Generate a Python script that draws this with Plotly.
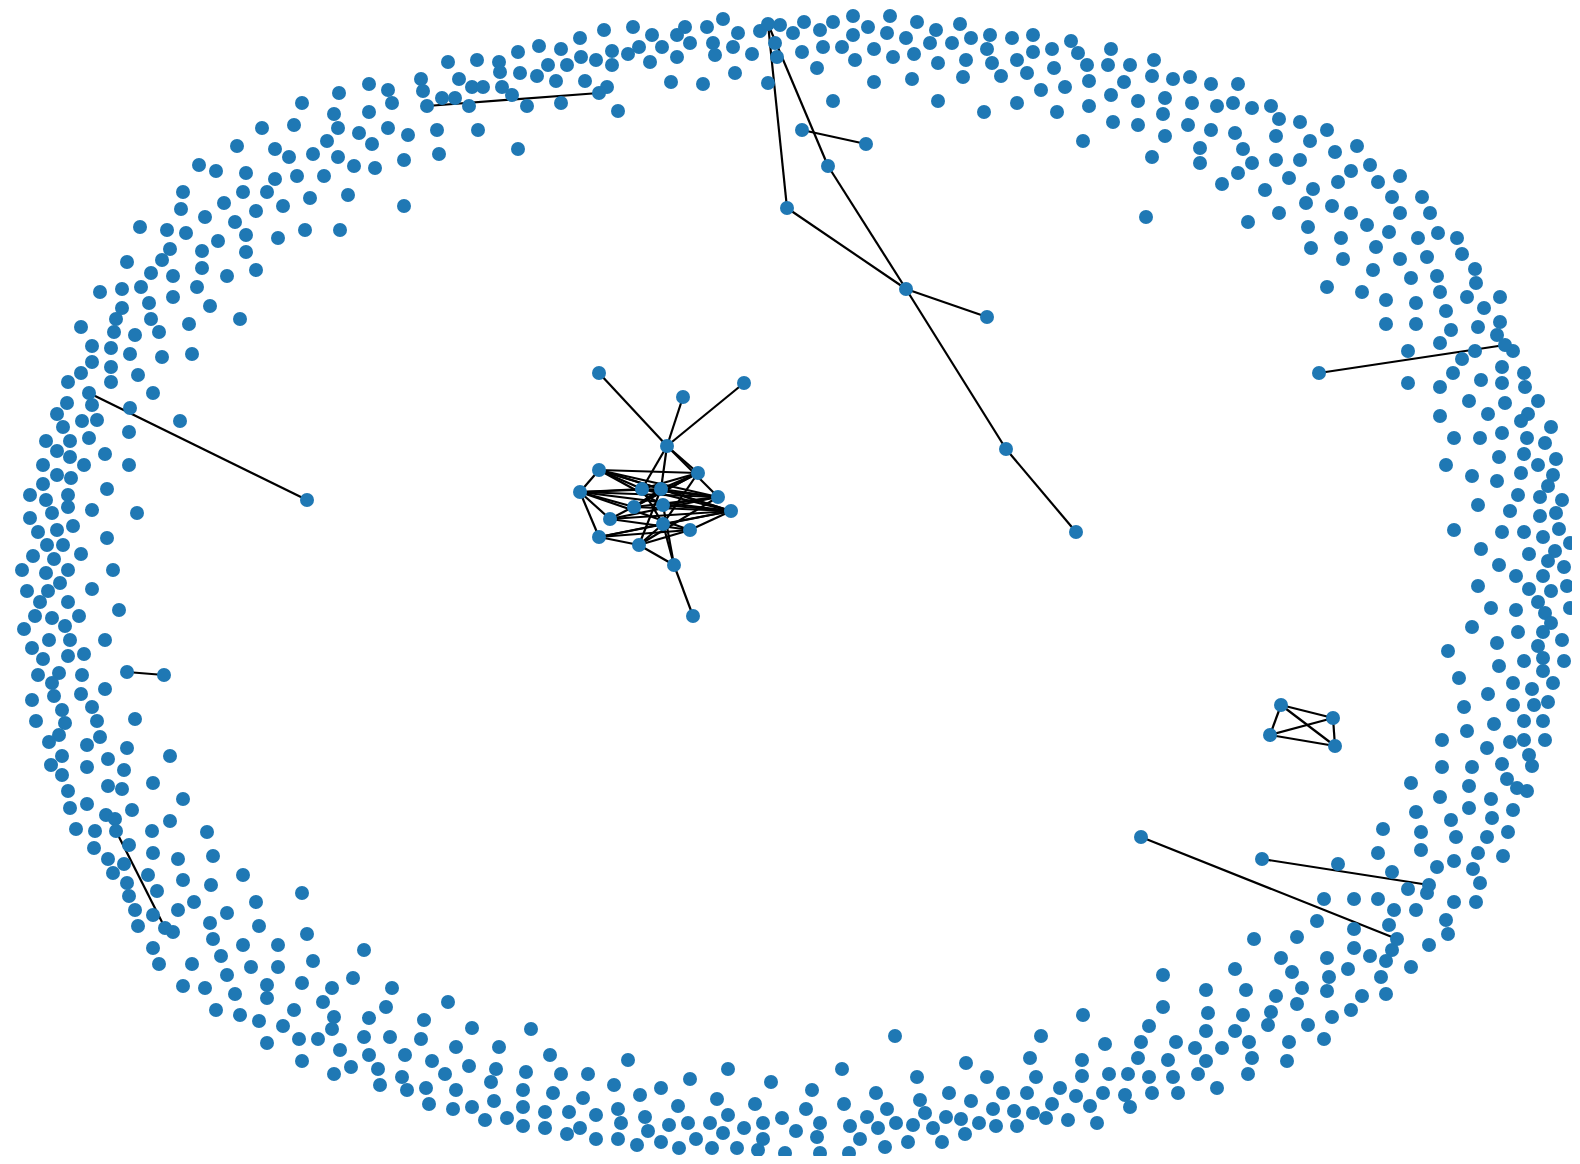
import plotly.graph_objects as go

# ---- isolated nodes (layout positions, pixel-like units, y downwards) ----
nodes_upper_left = [(369,84),(388,90),(392,103),(339,93),(302,103),(334,114),(369,112),(338,128),(388,128),(262,128),(294,125),(359,133),(327,141),(372,144),(237,146),(275,149),(289,157),(313,154),(338,157),(354,166),(375,168),(199,165),(216,171),(246,173),(275,179),(297,176),(324,176),(183,192),(243,192),(267,192),(181,209),(224,203),(256,211),(283,206),(310,198),(348,195),(205,217),(235,222),(140,227),(167,230),(186,233),(246,235),(278,238),(305,230),(340,230),(218,241),(170,249),(202,251),(246,252),(127,262),(162,260),(151,273),(173,276),(202,268),(227,276),(256,270),(100,292),(122,289),(141,287),(197,287),(149,303),(173,297),(122,308),(210,306),(116,319),(151,319),(81,327),(189,324),(240,319),(114,332),(135,335),(159,332),(92,346),(111,348),(130,354),(162,357),(192,354),(92,362),(111,367),(81,373),(138,375),(68,382),(111,382)]

nodes_top_left = [(723,19),(780,25),(760,31),(775,43),(777,57),(768,83),(633,27),(604,30),(580,38),(652,35),(685,27),(707,27),(677,35),(662,47),(690,43),(713,43),(715,55),(738,33),(733,47),(752,54),(639,47),(628,54),(612,51),(612,65),(596,60),(581,57),(567,65),(561,49),(539,46),(518,52),(548,65),(537,76),(520,73),(499,62),(500,72),(477,60),(448,62),(421,79),(459,79),(472,87),(483,87),(502,87),(512,95),(556,81),(585,81),(607,87),(650,62),(677,57),(671,82),(703,84),(735,73),(423,91),(442,98),(455,98),(469,106),(527,106),(561,103),(618,111),(408,135),(437,130),(478,130),(404,160),(439,154),(518,149),(404,206)]

nodes_top_right = [(804,22),(793,33),(820,30),(833,22),(853,16),(868,27),(853,35),(890,16),(887,33),(917,22),(906,38),(936,30),(930,43),(960,24),(952,43),(971,38),(990,35),(987,49),(1012,38),(1033,35),(1033,52),(1052,49),(1071,41),(1078,53),(1087,65),(1111,49),(1108,65),(1130,65),(1154,60),(1152,76),(1173,79),(802,52),(823,47),(842,47),(855,60),(874,49),(893,57),(914,54),(938,63),(966,60),(992,63),(1017,60),(1027,73),(1054,68),(1001,76),(963,77),(912,79),(874,82),(817,68),(1089,81),(1124,82),(1041,90),(1065,87),(1111,95),(1138,101),(1165,98),(1163,114),(833,101),(938,101),(984,112),(1017,103),(1057,112),(1089,106),(1113,122),(1138,125),(1165,136),(1083,141),(1152,157),(1146,217)]

nodes_upper_right = [(1190,77),(1211,84),(1238,84),(1192,103),(1217,106),(1233,103),(1252,108),(1271,106),(1279,119),(1300,122),(1327,130),(1188,125),(1211,130),(1235,133),(1276,136),(1310,141),(1200,148),(1200,163),(1243,149),(1252,163),(1276,160),(1300,160),(1335,152),(1357,146),(1238,173),(1222,184),(1265,190),(1289,178),(1313,189),(1338,182),(1351,171),(1370,165),(1378,182),(1400,176),(1306,203),(1332,206),(1351,213),(1392,197),(1422,197),(1400,213),(1430,213),(1248,222),(1279,213),(1308,227),(1367,225),(1389,232),(1341,238),(1418,238),(1438,233),(1457,238),(1311,248),(1376,247),(1343,259),(1400,259),(1427,257),(1462,254),(1475,269),(1476,283),(1373,270),(1411,278),(1437,276),(1327,287),(1362,292),(1386,300),(1416,303),(1440,292),(1467,297),(1500,297),(1446,311),(1484,308),(1386,324),(1416,324),(1451,330),(1478,327),(1500,322),(1497,335),(1440,343),(1408,351),(1475,351),(1513,351),(1462,359),(1453,373),(1502,367),(1524,373),(1408,383),(1440,387),(1481,380),(1502,383),(1525,387)]

nodes_right = [(1469,401),(1505,403),(1538,401),(1440,416),(1488,414),(1528,414),(1521,421),(1551,427),(1454,438),(1480,438),(1502,433),(1527,438),(1545,443),(1446,465),(1499,457),(1524,454),(1538,465),(1556,459),(1472,476),(1497,481),(1521,473),(1553,475),(1548,486),(1518,495),(1540,497),(1562,500),(1478,505),(1510,511),(1540,516),(1556,513),(1454,530),(1502,532),(1524,532),(1543,537),(1559,529),(1570,543),(1481,549),(1529,554),(1555,551),(1548,561),(1499,565),(1516,576),(1543,576),(1564,567),(1478,586),(1529,589),(1551,591),(1567,586),(1538,602),(1491,608),(1516,610),(1545,613),(1570,608),(1551,623),(1472,627),(1518,632),(1543,632),(1497,643),(1538,646),(1562,640),(1448,651),(1524,661),(1543,658),(1499,666),(1564,661),(1543,671),(1459,678),(1513,683),(1553,683),(1532,689),(1488,694),(1464,707),(1513,705),(1534,705),(1548,702),(1524,721),(1543,721),(1494,724),(1467,731),(1442,740),(1487,748),(1510,742),(1524,740),(1545,740),(1529,755),(1442,767),(1472,767),(1502,764),(1532,766)]

nodes_lower_right = [(1411,783),(1469,786),(1440,797),(1507,779),(1517,788),(1527,791),(1491,799),(1416,812),(1469,808),(1513,810),(1451,820),(1492,818),(1383,829),(1421,832),(1456,837),(1487,837),(1508,832),(1338,864),(1378,853),(1421,850),(1478,853),(1503,856),(1392,872),(1437,867),(1454,861),(1473,869),(1480,883),(1427,893),(1408,889),(1324,899),(1354,899),(1378,899),(1394,910),(1416,910),(1454,902),(1476,902),(1317,921),(1389,925),(1354,929),(1446,920),(1448,934),(1254,939),(1297,937),(1392,950),(1354,948),(1429,945),(1370,956),(1327,958),(1281,958),(1386,961),(1235,969),(1292,972),(1348,969),(1411,967),(1329,977),(1381,977),(1206,990),(1246,990),(1302,988),(1327,991),(1362,996),(1386,994),(1276,996),(1297,1004),(1208,1013),(1243,1015),(1271,1012),(1268,1025),(1332,1017),(1351,1010),(1206,1031),(1235,1031),(1308,1025),(1195,1048),(1222,1048),(1249,1042),(1289,1042),(1324,1039),(1206,1061),(1252,1058),(1287,1061),(1198,1074),(1248,1074),(1217,1088)]

nodes_bottom_right = [(1163,975),(1083,1015),(1163,1007),(1149,1026),(895,1036),(1041,1036),(1105,1044),(1141,1042),(1176,1042),(1030,1058),(1082,1060),(1138,1058),(1168,1060),(842,1069),(966,1063),(917,1077),(987,1077),(1036,1077),(1082,1076),(1109,1074),(1128,1074),(1149,1077),(1173,1077),(812,1090),(876,1093),(949,1093),(1003,1093),(1027,1093),(1060,1088),(1076,1096),(1103,1093),(1125,1095),(1152,1093),(1178,1093),(844,1104),(920,1100),(971,1101),(1052,1104),(1090,1106),(1130,1107),(806,1109),(887,1109),(925,1113),(993,1109),(1014,1111),(1033,1113),(867,1117),(946,1117),(961,1119),(1046,1118),(1068,1120),(1097,1123),(820,1123),(850,1126),(878,1128),(896,1123),(913,1125),(933,1128),(979,1123),(996,1126),(1017,1126),(796,1131),(817,1137),(860,1139),(908,1142),(942,1142),(965,1134),(885,1147),(820,1153),(849,1153)]

nodes_bottom_left = [(448,1002),(424,1020),(472,1028),(531,1029),(421,1039),(405,1055),(456,1047),(499,1047),(432,1061),(469,1066),(496,1069),(550,1055),(402,1077),(445,1074),(491,1082),(526,1072),(561,1074),(588,1074),(628,1060),(407,1090),(426,1088),(456,1090),(523,1090),(553,1093),(614,1085),(583,1098),(640,1095),(661,1088),(690,1079),(728,1069),(771,1082),(429,1104),(453,1109),(472,1107),(494,1101),(523,1107),(545,1112),(569,1112),(596,1115),(618,1109),(678,1106),(717,1099),(755,1104),(485,1120),(507,1118),(523,1126),(545,1128),(567,1134),(580,1128),(621,1123),(645,1117),(648,1131),(669,1125),(688,1123),(710,1123),(728,1115),(723,1133),(744,1128),(763,1123),(782,1118),(596,1139),(618,1139),(637,1145),(661,1142),(679,1148),(696,1139),(712,1148),(737,1148),(758,1150),(763,1139),(785,1153)]

nodes_lower_left = [(68,791),(108,786),(122,789),(153,783),(183,799),(70,808),(87,804),(106,815),(115,819),(132,810),(76,829),(95,831),(170,821),(152,831),(207,832),(94,848),(129,845),(153,853),(178,859),(213,856),(108,859),(124,864),(113,873),(148,875),(183,880),(211,885),(243,875),(302,893),(127,883),(129,896),(157,891),(194,902),(256,902),(135,910),(153,915),(178,910),(227,913),(138,926),(173,932),(210,923),(259,926),(307,934),(153,948),(213,939),(243,945),(278,945),(364,950),(159,964),(192,964),(221,956),(251,967),(278,967),(313,961),(227,975),(183,986),(205,988),(235,994),(267,985),(267,998),(302,983),(332,988),(353,978),(323,1002),(392,988),(216,1010),(240,1015),(259,1021),(283,1026),(294,1010),(334,1017),(332,1029),(369,1018),(386,1007),(267,1043),(299,1039),(318,1039),(364,1037),(390,1037),(340,1050),(369,1055),(302,1061),(351,1067),(378,1069),(334,1074),(380,1085)]

nodes_left = [(153,393),(67,403),(92,405),(130,408),(57,414),(82,421),(97,420),(180,421),(63,427),(46,441),(70,441),(89,438),(129,432),(57,451),(70,457),(105,454),(43,465),(84,465),(129,465),(57,475),(71,478),(43,484),(30,495),(46,500),(68,495),(107,489),(68,507),(52,513),(92,510),(137,513),(30,518),(38,532),(57,530),(73,526),(47,545),(63,545),(107,538),(33,556),(54,559),(81,554),(22,570),(46,573),(68,570),(113,570),(60,583),(27,591),(48,591),(92,589),(40,602),(68,602),(119,610),(35,616),(52,618),(79,616),(24,629),(65,626),(49,640),(70,640),(105,640),(32,648),(43,659),(68,656),(84,654),(38,675),(59,673),(82,675),(52,683),(105,689),(32,700),(54,696),(81,694),(62,710),(92,707),(36,721),(65,723),(97,721),(135,719),(59,735),(100,737),(49,742),(87,745),(127,748),(170,756),(62,756),(51,765),(87,767),(108,759),(124,770),(62,775)]

# ---- nodes that belong to connected components ----
linked_nodes = {
    "T": (768, 24), "U": (787, 208), "V": (828, 166), "W": (906, 289),
    "X": (987, 317), "Y": (1006, 449), "Z": (1076, 532),
    "S1": (802, 130), "S2": (866, 144),
    "L1": (427, 106), "L2": (599, 93),
    "E1": (89, 393), "E2": (307, 500),
    "P1": (127, 672), "P2": (164, 675),
    "Q1": (116, 831), "Q2": (165, 928),
    "R1": (1319, 373), "R2": (1505, 345),
    "M1": (1141, 837), "M2": (1397, 939),
    "N1": (1262, 859), "N2": (1429, 885),
    "K1": (1281, 705), "K2": (1333, 718), "K3": (1270, 735), "K4": (1335, 746),
    "H": (667, 446), "O1": (599, 373), "O2": (683, 397), "O3": (744, 383),
    "A": (599, 470), "B": (698, 473), "C": (580, 492), "D": (642, 489),
    "E": (661, 489), "F": (718, 497), "G": (731, 511), "Hh": (634, 507),
    "I": (663, 505), "J": (610, 519), "K": (663, 524), "L": (690, 530),
    "M": (599, 537), "N": (639, 545), "Qa": (674, 565), "Ra": (693, 616),
}

edges = [
    ("T", "U"), ("T", "V"), ("V", "W"), ("U", "W"), ("W", "X"), ("W", "Y"), ("Y", "Z"),
    ("S1", "S2"), ("L1", "L2"), ("E1", "E2"), ("P1", "P2"), ("Q1", "Q2"),
    ("R1", "R2"), ("M1", "M2"), ("N1", "N2"),
    ("K1", "K2"), ("K1", "K3"), ("K1", "K4"), ("K2", "K3"), ("K2", "K4"), ("K3", "K4"),
    ("O1", "H"), ("O2", "H"), ("O3", "H"),
    ("H", "D"), ("H", "E"), ("H", "B"), ("H", "F"),
    ("A", "C"), ("A", "D"), ("A", "E"), ("A", "B"), ("A", "F"), ("A", "G"),
    ("C", "D"), ("C", "E"), ("C", "F"), ("C", "G"), ("C", "Hh"), ("C", "J"), ("C", "M"),
    ("J", "F"), ("J", "G"), ("J", "L"), ("M", "G"), ("M", "L"), ("M", "K"), ("M", "N"),
    ("Hh", "G"), ("Hh", "F"), ("D", "F"), ("D", "G"), ("E", "F"), ("E", "G"),
    ("I", "G"), ("I", "F"), ("B", "D"), ("B", "E"), ("B", "Hh"), ("B", "K"),
    ("K", "G"), ("L", "G"), ("N", "K"), ("N", "L"), ("N", "E"), ("D", "K"), ("E", "Hh"),
    ("A", "I"), ("C", "L"), ("J", "B"), ("N", "F"),
    ("Qa", "N"), ("Qa", "K"), ("Qa", "I"), ("Qa", "Ra"),
]

isolated = (nodes_upper_left + nodes_top_left + nodes_top_right + nodes_upper_right
            + nodes_right + nodes_lower_right + nodes_bottom_right + nodes_bottom_left
            + nodes_lower_left + nodes_left)
all_nodes = isolated + list(linked_nodes.values())

ex, ey = [], []
for a, b in edges:
    xa, ya = linked_nodes[a]
    xb, yb = linked_nodes[b]
    ex += [xa, xb, None]
    ey += [ya, yb, None]

fig = go.Figure()
fig.add_trace(go.Scatter(x=ex, y=ey, mode="lines",
                         line=dict(color="#000000", width=2.2),
                         hoverinfo="skip", showlegend=False))
fig.add_trace(go.Scatter(x=[p[0] for p in all_nodes], y=[p[1] for p in all_nodes],
                         mode="markers",
                         marker=dict(color="#1f78b4", size=14, line=dict(width=0)),
                         showlegend=False))
# page body has an 8px margin: plot area spans page pixels 8..1572 x 8..1156
fig.update_layout(
    width=1564, height=1148,
    margin=dict(l=0, r=0, t=0, b=0),
    paper_bgcolor="white", plot_bgcolor="white",
    xaxis=dict(range=[8, 1572], visible=False),
    yaxis=dict(range=[1156, 8], visible=False),
)
fig.write_html("out.html")
